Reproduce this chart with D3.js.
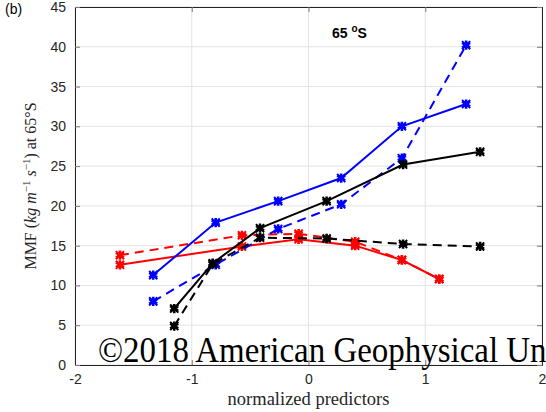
<!DOCTYPE html>
<html>
<head>
<meta charset="utf-8">
<script src="https://cdn.jsdelivr.net/npm/d3@7"></script>
<style>
  body { margin: 0; background: #fff; }
  svg { display: block; }
</style>
</head>
<body>
<div id="chart"></div>
<script>
// Chart values
var xTicks = [-2, -1, 0, 1, 2];
var yTicks = [0, 5, 10, 15, 20, 25, 30, 35, 40, 45];

var blueX = [-1.33, -0.795, -0.26, 0.28, 0.80, 1.35];
var blueSolid = [11.3, 17.9, 20.6, 23.5, 30.0, 32.8];
var blueDashed = [8.0, 12.6, 17.1, 20.2, 26.0, 40.2];

var blackX = [-1.15, -0.82, -0.415, 0.155, 0.81, 1.47];
var blackSolid = [7.1, 12.8, 17.2, 20.6, 25.2, 26.8];
var blackDashed = [4.9, 12.7, 16.0, 15.9, 15.2, 14.9];

var redX = [-1.615, -0.57, -0.085, 0.40, 0.80, 1.12];
var redSolid = [12.6, 14.9, 15.8, 15.0, 13.2, 10.8];
var redDashed = [13.8, 16.3, 16.5, 15.5, 13.2, 10.8];

// SVG dimensions
var svgWidth = 546;
var svgHeight = 412;
var margin = { top: 7, right: 4, bottom: 47, left: 75 };
var width = svgWidth - margin.left - margin.right;
var height = svgHeight - margin.top - margin.bottom;

var svg = d3.select("#chart")
  .append("svg")
  .attr("width", svgWidth)
  .attr("height", svgHeight);

var chartGroup = svg.append("g")
  .attr("transform", `translate(${margin.left}, ${margin.top})`);

var xScale = d3.scaleLinear().domain([-2, 2]).range([0, width]);
var yScale = d3.scaleLinear().domain([0, 45]).range([height, 0]);

// Grid lines
chartGroup.append("g")
  .selectAll("line")
  .data(xTicks)
  .enter()
  .append("line")
  .attr("x1", d => xScale(d)).attr("x2", d => xScale(d))
  .attr("y1", 0).attr("y2", height)
  .attr("stroke", "#e3e3e3").attr("stroke-width", 1);

chartGroup.append("g")
  .selectAll("line")
  .data(yTicks)
  .enter()
  .append("line")
  .attr("x1", 0).attr("x2", width)
  .attr("y1", d => yScale(d)).attr("y2", d => yScale(d))
  .attr("stroke", "#e3e3e3").attr("stroke-width", 1);

// Series
var series = [
  { x: redX, y: redSolid, color: "#ff0000", dash: null },
  { x: redX, y: redDashed, color: "#ff0000", dash: "9,6" },
  { x: blueX, y: blueDashed, color: "#0000ff", dash: "9,6" },
  { x: blueX, y: blueSolid, color: "#0000ff", dash: null },
  { x: blackX, y: blackDashed, color: "#000000", dash: "9,6" },
  { x: blackX, y: blackSolid, color: "#000000", dash: null }
];

var line = d3.line()
  .x(d => xScale(d[0]))
  .y(d => yScale(d[1]));

var star = d3.symbol().type(d3.symbolAsterisk).size(60);
var plus = d3.symbol().type(d3.symbolTimes).size(45);

series.forEach(function (s) {
  var pts = s.x.map((v, i) => [v, s.y[i]]);

  chartGroup.append("path")
    .datum(pts)
    .attr("d", line)
    .attr("fill", "none")
    .attr("stroke", s.color)
    .attr("stroke-width", 2)
    .attr("stroke-dasharray", s.dash);

  var marks = chartGroup.append("g").selectAll("g")
    .data(pts)
    .enter()
    .append("g")
    .attr("transform", d => `translate(${xScale(d[0])}, ${yScale(d[1])})`);

  marks.append("path")
    .attr("d", star)
    .attr("fill", "none")
    .attr("stroke", s.color)
    .attr("stroke-width", 2.6);

  marks.append("path")
    .attr("d", plus)
    .attr("fill", "none")
    .attr("stroke", s.color)
    .attr("stroke-width", 2);

  marks.append("circle")
    .attr("r", 3)
    .attr("fill", s.color);
});

// Axes (box with inward ticks, MATLAB style)
var axisColor = "#262626";

var bottomAxis = d3.axisBottom(xScale).tickValues(xTicks).tickSize(-5).tickPadding(9).tickFormat(d3.format("d"));
var topAxis = d3.axisTop(xScale).tickValues(xTicks).tickSize(-5).tickFormat("");
var leftAxis = d3.axisLeft(yScale).tickValues(yTicks).tickSize(-5).tickPadding(9);
var rightAxis = d3.axisRight(yScale).tickValues(yTicks).tickSize(-5).tickFormat("");

var gx = chartGroup.append("g").attr("transform", `translate(0,${height})`).call(bottomAxis);
var gt = chartGroup.append("g").call(topAxis);
var gy = chartGroup.append("g").call(leftAxis);
var gr = chartGroup.append("g").attr("transform", `translate(${width},0)`).call(rightAxis);

[gx, gt, gy, gr].forEach(function (g) {
  g.select(".domain").attr("stroke", axisColor).attr("stroke-width", 1);
  g.selectAll(".tick line").attr("stroke", "#7a7a7a");
  g.selectAll("text")
    .attr("fill", axisColor)
    .attr("font-family", "Liberation Sans, Arial, sans-serif")
    .attr("font-size", "14px");
});
gx.selectAll("text").text(d => d < 0 ? "-" + Math.abs(d) : d);

// In-plot title
var title = chartGroup.append("text")
  .attr("x", 257)
  .attr("y", 31)
  .attr("font-family", "Liberation Sans, Arial, sans-serif")
  .attr("font-weight", "700")
  .attr("font-size", "14px")
  .attr("fill", "#000");
title.append("tspan").text("65 ");
title.append("tspan").attr("font-size", "10px").attr("dy", -6).text("o");
title.append("tspan").attr("dy", 6).text("S");

// Panel label
svg.append("text")
  .attr("x", 5)
  .attr("y", 14)
  .attr("font-family", "Liberation Sans, Arial, sans-serif")
  .attr("font-size", "14px")
  .attr("fill", "#000")
  .text("(b)");

// Axis labels
var yLabel = svg.append("text")
  .attr("transform", `translate(36, ${margin.top + height / 2}) rotate(-90)`)
  .attr("text-anchor", "middle")
  .attr("font-family", "Liberation Serif, DejaVu Serif, serif")
  .attr("font-size", "16px")
  .attr("fill", "#262626");
yLabel.append("tspan").text("MMF (");
yLabel.append("tspan").attr("font-style", "italic").text("kg m");
yLabel.append("tspan").attr("font-size", "11px").attr("dy", -6).text("−1");
yLabel.append("tspan").attr("dy", 6).text(" ");
yLabel.append("tspan").attr("font-style", "italic").text("s");
yLabel.append("tspan").attr("font-size", "11px").attr("dy", -6).text("−1");
yLabel.append("tspan").attr("dy", 6).text(") at 65°S");

svg.append("text")
  .attr("x", margin.left + width / 2)
  .attr("y", 405)
  .attr("text-anchor", "middle")
  .attr("font-family", "Liberation Serif, DejaVu Serif, serif")
  .attr("font-size", "18.5px")
  .attr("fill", "#262626")
  .text("normalized predictors");

// Watermark (cut off at the right edge, as in the source image)
svg.append("text")
  .attr("transform", "translate(98, 362) scale(0.915, 1)")
  .attr("font-family", "Liberation Serif, DejaVu Serif, serif")
  .attr("font-size", "36px")
  .attr("fill", "#000")
  .text("©2018 American Geophysical Union");
</script>
</body>
</html>
